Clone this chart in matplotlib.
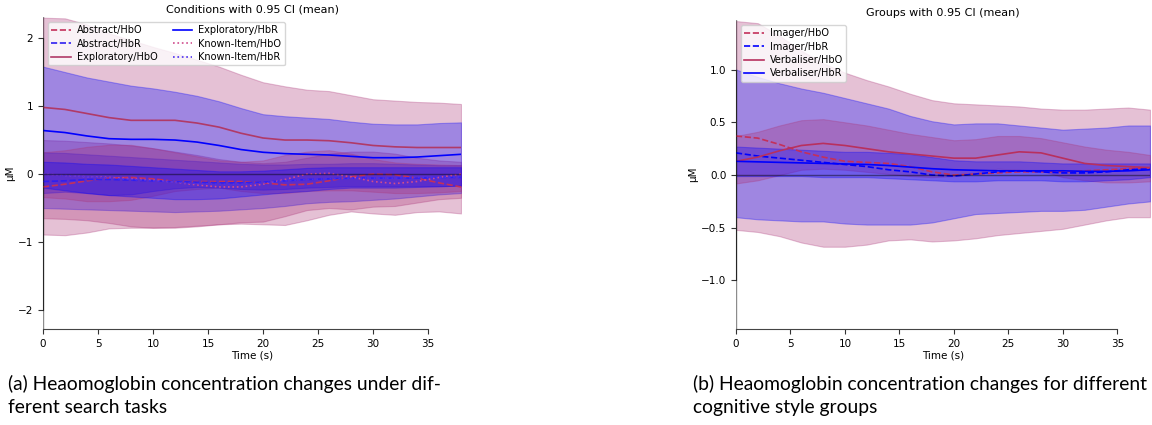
#! /usr/bin/env python

# Recreate the fNIRS condition / group comparison figure

import matplotlib
matplotlib.use('Agg')
import matplotlib.pyplot as plt

# time axis (s)
times = [0, 2, 4, 6, 8, 10, 12, 14, 16, 18, 20, 22, 24, 26, 28, 30, 32, 34, 36, 38]

# ---- (a) search tasks ----
abstract_hbo = [-0.19, -0.15, -0.10, -0.06, -0.05, -0.07, -0.11, -0.11, -0.11, -0.11,
                -0.13, -0.16, -0.15, -0.10, -0.04, 0.00, -0.01, -0.06, -0.13, -0.19]
abstract_hbo_hi = [0.50, 0.49, 0.47, 0.45, 0.42, 0.38, 0.33, 0.28, 0.22, 0.18,
                   0.16, 0.18, 0.24, 0.30, 0.33, 0.33, 0.30, 0.24, 0.20, 0.18]
abstract_hbo_lo = [-0.89, -0.90, -0.86, -0.80, -0.79, -0.79, -0.79, -0.77, -0.74, -0.73,
                   -0.74, -0.75, -0.68, -0.60, -0.55, -0.58, -0.60, -0.56, -0.55, -0.58]

abstract_hbr = [-0.11, -0.10, -0.08, -0.08, -0.09, -0.10, -0.11, -0.12, -0.13, -0.13,
                -0.12, -0.10, -0.08, -0.07, -0.06, -0.06, -0.06, -0.06, -0.05, -0.05]
abstract_hbr_hi = [0.32, 0.31, 0.29, 0.27, 0.25, 0.23, 0.21, 0.19, 0.17, 0.15,
                   0.14, 0.14, 0.15, 0.15, 0.16, 0.16, 0.15, 0.14, 0.13, 0.13]
abstract_hbr_lo = [-0.50, -0.51, -0.52, -0.53, -0.54, -0.55, -0.56, -0.55, -0.54, -0.52,
                   -0.50, -0.47, -0.43, -0.41, -0.40, -0.38, -0.36, -0.33, -0.30, -0.28]

exploratory_hbo = [0.98, 0.95, 0.89, 0.83, 0.79, 0.79, 0.79, 0.75, 0.69, 0.60,
                   0.53, 0.50, 0.50, 0.49, 0.46, 0.42, 0.40, 0.39, 0.39, 0.39]
exploratory_hbo_hi = [2.30, 2.29, 2.20, 2.07, 1.97, 1.87, 1.78, 1.68, 1.58, 1.46,
                      1.35, 1.29, 1.24, 1.22, 1.16, 1.10, 1.08, 1.06, 1.05, 1.03]
exploratory_hbo_lo = [-0.34, -0.36, -0.40, -0.40, -0.38, -0.32, -0.25, -0.22, -0.20, -0.25,
                      -0.28, -0.28, -0.25, -0.24, -0.24, -0.26, -0.28, -0.28, -0.27, -0.25]

exploratory_hbr = [0.64, 0.61, 0.56, 0.52, 0.51, 0.51, 0.50, 0.47, 0.42, 0.36,
                   0.32, 0.30, 0.29, 0.28, 0.26, 0.24, 0.24, 0.25, 0.27, 0.29]
exploratory_hbr_hi = [1.58, 1.50, 1.42, 1.36, 1.30, 1.26, 1.21, 1.15, 1.07, 0.97,
                      0.88, 0.85, 0.83, 0.81, 0.77, 0.74, 0.73, 0.73, 0.75, 0.76]
exploratory_hbr_lo = [-0.28, -0.26, -0.28, -0.31, -0.30, -0.25, -0.21, -0.19, -0.20, -0.22,
                      -0.23, -0.22, -0.20, -0.19, -0.18, -0.18, -0.18, -0.18, -0.18, -0.17]

known_hbo = [0.00, -0.02, -0.04, -0.05, -0.07, -0.09, -0.12, -0.16, -0.19, -0.19,
             -0.15, -0.08, 0.00, 0.01, -0.04, -0.11, -0.14, -0.11, -0.05, 0.00]
known_hbo_hi = [0.32, 0.35, 0.40, 0.43, 0.43, 0.38, 0.32, 0.26, 0.20, 0.18,
                0.20, 0.28, 0.33, 0.35, 0.30, 0.22, 0.17, 0.15, 0.14, 0.13]
known_hbo_lo = [-0.65, -0.66, -0.68, -0.72, -0.77, -0.79, -0.78, -0.76, -0.74, -0.71,
                -0.70, -0.62, -0.53, -0.50, -0.52, -0.48, -0.47, -0.42, -0.37, -0.35]

known_hbr = [0.00, -0.02, -0.04, -0.06, -0.08, -0.10, -0.12, -0.14, -0.15, -0.15,
             -0.13, -0.10, -0.08, -0.07, -0.06, -0.06, -0.06, -0.05, -0.05, -0.04]
known_hbr_hi = [0.18, 0.17, 0.15, 0.14, 0.12, 0.10, 0.08, 0.06, 0.04, 0.04,
                0.05, 0.07, 0.09, 0.10, 0.10, 0.10, 0.10, 0.10, 0.10, 0.10]
known_hbr_lo = [-0.20, -0.24, -0.28, -0.31, -0.33, -0.35, -0.37, -0.37, -0.36, -0.33,
                -0.30, -0.27, -0.25, -0.22, -0.20, -0.20, -0.20, -0.19, -0.18, -0.17]

# ---- (b) cognitive style groups ----
imager_hbo = [0.37, 0.35, 0.29, 0.22, 0.17, 0.13, 0.12, 0.11, 0.08, 0.03,
              0.00, 0.01, 0.02, 0.03, 0.03, 0.03, 0.04, 0.05, 0.06, 0.07]
imager_hbo_hi = [1.46, 1.44, 1.32, 1.18, 1.06, 0.97, 0.90, 0.84, 0.77, 0.71,
                 0.68, 0.67, 0.66, 0.65, 0.63, 0.62, 0.62, 0.63, 0.64, 0.62]
imager_hbo_lo = [-0.52, -0.54, -0.58, -0.64, -0.68, -0.68, -0.66, -0.62, -0.61, -0.63,
                 -0.62, -0.60, -0.57, -0.55, -0.53, -0.51, -0.47, -0.43, -0.40, -0.40]

imager_hbr = [0.21, 0.18, 0.16, 0.14, 0.12, 0.10, 0.08, 0.05, 0.03, 0.00,
              -0.01, 0.01, 0.03, 0.04, 0.03, 0.02, 0.02, 0.03, 0.05, 0.06]
imager_hbr_hi = [1.00, 0.93, 0.87, 0.82, 0.78, 0.73, 0.68, 0.63, 0.56, 0.51,
                 0.48, 0.49, 0.49, 0.47, 0.45, 0.43, 0.44, 0.45, 0.47, 0.47]
imager_hbr_lo = [-0.40, -0.42, -0.43, -0.44, -0.44, -0.46, -0.47, -0.47, -0.47, -0.45,
                 -0.41, -0.37, -0.36, -0.35, -0.34, -0.34, -0.33, -0.30, -0.27, -0.25]

verbaliser_hbo = [0.13, 0.17, 0.23, 0.28, 0.30, 0.28, 0.25, 0.22, 0.20, 0.18,
                  0.16, 0.16, 0.19, 0.22, 0.21, 0.16, 0.11, 0.09, 0.08, 0.07]
verbaliser_hbo_hi = [0.37, 0.41, 0.47, 0.52, 0.53, 0.50, 0.47, 0.43, 0.39, 0.36,
                     0.33, 0.34, 0.37, 0.37, 0.35, 0.31, 0.27, 0.24, 0.22, 0.19]
verbaliser_hbo_lo = [-0.08, -0.05, 0.00, 0.05, 0.06, 0.05, 0.03, 0.01, -0.01, -0.02,
                     -0.01, 0.02, 0.06, 0.05, 0.04, -0.02, -0.05, -0.07, -0.07, -0.06]

verbaliser_hbr = [0.13, 0.125, 0.12, 0.115, 0.11, 0.105, 0.10, 0.09, 0.075, 0.06,
                  0.05, 0.045, 0.04, 0.04, 0.04, 0.04, 0.035, 0.035, 0.04, 0.05]
verbaliser_hbr_hi = [0.27, 0.26, 0.25, 0.24, 0.23, 0.22, 0.22, 0.21, 0.20, 0.17,
                     0.14, 0.13, 0.13, 0.13, 0.12, 0.11, 0.11, 0.11, 0.11, 0.11]
verbaliser_hbr_lo = [-0.01, -0.01, -0.01, -0.01, -0.02, -0.02, -0.02, -0.03, -0.04, -0.05,
                     -0.06, -0.06, -0.05, -0.05, -0.05, -0.06, -0.06, -0.05, -0.04, -0.02]

HBO_FILL = '#AA3377'
HBR_FILL = 'blue'

# (label, mean, lo, hi, line colour, linestyle, fill colour)
conditions = [
    ('Abstract/HbO', abstract_hbo, abstract_hbo_lo, abstract_hbo_hi, '#c4305a', '--', HBO_FILL),
    ('Abstract/HbR', abstract_hbr, abstract_hbr_lo, abstract_hbr_hi, '#2f1ff0', '--', HBR_FILL),
    ('Exploratory/HbO', exploratory_hbo, exploratory_hbo_lo, exploratory_hbo_hi, '#b03a68', '-', HBO_FILL),
    ('Exploratory/HbR', exploratory_hbr, exploratory_hbr_lo, exploratory_hbr_hi, 'blue', '-', HBR_FILL),
    ('Known-Item/HbO', known_hbo, known_hbo_lo, known_hbo_hi, '#d04c8c', ':', HBO_FILL),
    ('Known-Item/HbR', known_hbr, known_hbr_lo, known_hbr_hi, '#4a2ff0', ':', HBR_FILL),
]

groups = [
    ('Imager/HbO', imager_hbo, imager_hbo_lo, imager_hbo_hi, '#c4305a', '--', HBO_FILL),
    ('Imager/HbR', imager_hbr, imager_hbr_lo, imager_hbr_hi, 'blue', '--', HBR_FILL),
    ('Verbaliser/HbO', verbaliser_hbo, verbaliser_hbo_lo, verbaliser_hbo_hi, '#b8305e', '-', HBO_FILL),
    ('Verbaliser/HbR', verbaliser_hbr, verbaliser_hbr_lo, verbaliser_hbr_hi, 'blue', '-', HBR_FILL),
]


def draw_panel(ax, series, title, ylim, yticks, ncol):
    '''Draw means with CI bands, styled like an MNE compare_evokeds plot.'''
    for label, mean, lo, hi, color, ls, fill in series:
        ax.fill_between(times, lo, hi, color=fill, alpha=0.3, linewidth=0.8,
                        edgecolor=fill)
    for label, mean, lo, hi, color, ls, fill in series:
        ax.plot(times, mean, color=color, linestyle=ls, linewidth=1.2, label=label, zorder=3)

    ax.axhline(0, color='k', alpha=0.45, linewidth=1.0, zorder=4)
    ax.axvline(0, color='k', alpha=0.45, linewidth=1.0, zorder=4)

    ax.set_xlim(0, 38)
    ax.set_ylim(*ylim)
    ax.set_xticks([0, 5, 10, 15, 20, 25, 30, 35])
    ax.set_yticks(yticks)
    ax.tick_params(labelsize=7.5, length=3.5, color='#333333')
    for side in ['top', 'right']:
        ax.spines[side].set_visible(False)
    ax.spines['bottom'].set_bounds(0, 35)
    ax.spines['left'].set_bounds(yticks[0], yticks[-1])
    ax.spines['bottom'].set_color('#444444')
    ax.spines['left'].set_color('#444444')
    ax.set_xlabel('Time (s)', fontsize=7.5, labelpad=1)
    ax.set_ylabel('µM', fontsize=7.5, labelpad=2)
    ax.set_title(title, fontsize=8, pad=3)
    ax.legend(loc='upper left', ncol=ncol, fontsize=7, handlelength=2.0,
              columnspacing=1.6, labelspacing=0.35, borderpad=0.35, handletextpad=0.6,
              bbox_to_anchor=(0.0, 1.0))


fig = plt.figure(figsize=(11.52, 4.25), dpi=100)

ax1 = fig.add_axes([43 / 1152, 96 / 425, 418 / 1152, 312 / 425])
draw_panel(ax1, conditions, 'Conditions with 0.95 CI (mean)', (-2.28, 2.31), [-2, -1, 0, 1, 2], 2)

ax2 = fig.add_axes([736 / 1152, 96 / 425, 414 / 1152, 309 / 425])
draw_panel(ax2, groups, 'Groups with 0.95 CI (mean)', (-1.46, 1.47), [-1.0, -0.5, 0.0, 0.5, 1.0], 1)

cap_font = dict(fontsize=13.9, family='Lato', va='top', ha='left', linespacing=1.4)
fig.text(8 / 1152, 1 - 375 / 425,
         '(a) Heaomoglobin concentration changes under dif-\nferent search tasks', **cap_font)
fig.text(693 / 1152, 1 - 375 / 425,
         '(b) Heaomoglobin concentration changes for different\ncognitive style groups', **cap_font)

plt.savefig('out.png', dpi=100)
